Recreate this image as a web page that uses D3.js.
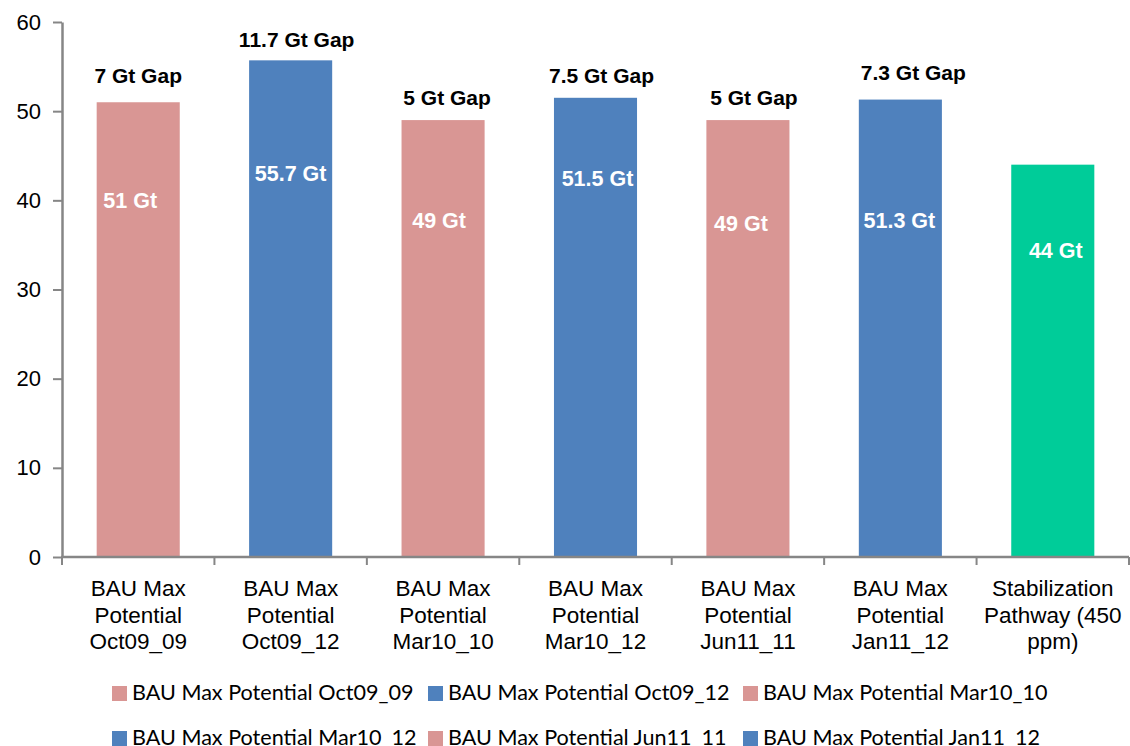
<!DOCTYPE html>
<html>
<head>
<meta charset="utf-8">
<script src="https://cdn.jsdelivr.net/npm/d3@7"></script>
<style>
  body { margin: 0; background: #fff; }
  svg { display: block; }
</style>
</head>
<body>
<svg width="1130" height="746"></svg>
<script>
// chart values
var categories = ["BAU Max Potential Oct09_09", "BAU Max Potential Oct09_12", "BAU Max Potential Mar10_10",
    "BAU Max Potential Mar10_12", "BAU Max Potential Jun11_11", "BAU Max Potential Jan11_12",
    "Stabilization Pathway (450 ppm)"];
var axisLabels = [["BAU Max", "Potential", "Oct09_09"], ["BAU Max", "Potential", "Oct09_12"],
    ["BAU Max", "Potential", "Mar10_10"], ["BAU Max", "Potential", "Mar10_12"],
    ["BAU Max", "Potential", "Jun11_11"], ["BAU Max", "Potential", "Jan11_12"],
    ["Stabilization", "Pathway (450", "ppm)"]];
var values = [51, 55.7, 49, 51.5, 49, 51.3, 44];
var valueLabels = ["51 Gt", "55.7 Gt", "49 Gt", "51.5 Gt", "49 Gt", "51.3 Gt", "44 Gt"];
var gapLabels = ["7 Gt Gap", "11.7 Gt Gap", "5 Gt Gap", "7.5 Gt Gap", "5 Gt Gap", "7.3 Gt Gap", ""];
var yTicks = [0, 10, 20, 30, 40, 50, 60];
var legendSeries = categories.slice(0, 6);

// label placement (value-axis units / pixel nudges), as dragged in the source chart
var gapLabelAt = [53.2, 57.2, 50.7, 53.2, 50.7, 53.5, 0];
var gapLabelDx = [0, 6, 4, 6, 6, 13, 0];
var valueLabelAt = [39.1, 42.2, 36.9, 41.6, 36.6, 36.9, 33.5];
var valueLabelDx = [-8, 0, -4, 2, -7, -1, 3];

var colors = ["#d99694", "#4f81bd", "#d99694", "#4f81bd", "#d99694", "#4f81bd", "#00cc99"];

var svg = d3.select("svg"),
    plotLeft = 62, plotRight = 1129, plotTop = 22, plotBottom = 557;

var x = d3.scaleBand().domain(categories).range([plotLeft, plotRight]).padding(0);
var y = d3.scaleLinear().domain([0, 60]).range([plotBottom, plotTop]);
var barW = x.bandwidth() * 0.545;

var axisColor = "#868686";

// bars
svg.selectAll(".bar")
    .data(values)
    .enter().append("rect")
    .attr("class", "bar")
    .attr("x", function(d, i) { return x(categories[i]) + (x.bandwidth() - barW) / 2; })
    .attr("y", function(d) { return y(d); })
    .attr("width", barW)
    .attr("height", function(d) { return y(0) - y(d); })
    .attr("fill", function(d, i) { return colors[i]; });

// y axis
var yAxis = svg.append("g")
    .attr("transform", "translate(" + plotLeft + ",0)")
    .call(d3.axisLeft(y).tickValues(yTicks).tickSize(9).tickSizeOuter(0).tickPadding(12));
yAxis.select(".domain").attr("stroke", axisColor).attr("stroke-width", 2.5);
yAxis.selectAll(".tick line").attr("stroke", axisColor).attr("stroke-width", 2);
yAxis.selectAll(".tick text")
    .attr("fill", "#000")
    .style("font-family", "Liberation Sans, Arial, sans-serif")
    .style("font-size", "22px");

// x axis line and ticks at category boundaries
svg.append("line")
    .attr("x1", plotLeft - 1).attr("x2", plotRight)
    .attr("y1", plotBottom).attr("y2", plotBottom)
    .attr("stroke", axisColor).attr("stroke-width", 2.5);
var bounds = categories.map(function(c) { return x(c); }).concat([x(categories[6]) + x.bandwidth()]);
svg.selectAll(".xtick")
    .data(bounds)
    .enter().append("line")
    .attr("x1", function(d) { return d; }).attr("x2", function(d) { return d; })
    .attr("y1", plotBottom).attr("y2", plotBottom + 8)
    .attr("stroke", axisColor).attr("stroke-width", 2);

// x labels
var xl = svg.selectAll(".xlabel")
    .data(axisLabels)
    .enter().append("text")
    .attr("class", "xlabel")
    .attr("text-anchor", "middle")
    .style("font-family", "Liberation Sans, Arial, sans-serif")
    .style("font-size", "22.5px")
    .attr("fill", "#000");
xl.selectAll("tspan")
    .data(function(d, i) { return d.map(function(s) { return { s: s, i: i }; }); })
    .enter().append("tspan")
    .attr("x", function(d) { return x(categories[d.i]) + x.bandwidth() / 2; })
    .attr("y", function(d, j) { return 596 + j * 26.5; })
    .text(function(d) { return d.s; });

// gap labels
svg.selectAll(".gap")
    .data(gapLabels)
    .enter().append("text")
    .attr("class", "gap")
    .attr("text-anchor", "middle")
    .attr("x", function(d, i) { return x(categories[i]) + x.bandwidth() / 2 + gapLabelDx[i]; })
    .attr("y", function(d, i) { return y(gapLabelAt[i]); })
    .style("font-family", "Liberation Sans, Arial, sans-serif")
    .style("font-weight", "bold")
    .style("font-size", "21px")
    .attr("fill", "#000")
    .text(function(d) { return d; });

// value labels
svg.selectAll(".val")
    .data(valueLabels)
    .enter().append("text")
    .attr("class", "val")
    .attr("text-anchor", "middle")
    .attr("x", function(d, i) { return x(categories[i]) + x.bandwidth() / 2 + valueLabelDx[i]; })
    .attr("y", function(d, i) { return y(valueLabelAt[i]); })
    .style("font-family", "Liberation Sans, Arial, sans-serif")
    .style("font-weight", "bold")
    .style("font-size", "21.5px")
    .attr("fill", "#fff")
    .text(function(d) { return d; });

// legend
var legendX = [112, 428, 743];
var legendY = [693, 738];
var lg = svg.selectAll(".leg")
    .data(legendSeries)
    .enter().append("g")
    .attr("class", "leg")
    .attr("transform", function(d, i) {
        return "translate(" + legendX[i % 3] + "," + legendY[Math.floor(i / 3)] + ")";
    });
lg.append("rect")
    .attr("x", 0).attr("y", -7)
    .attr("width", 15).attr("height", 15)
    .attr("fill", function(d, i) { return colors[i]; });
lg.append("text")
    .attr("x", 20).attr("y", 7)
    .style("font-family", "Lato, Open Sans, sans-serif")
    .style("font-size", "21.6px")
    .attr("fill", "#000")
    .text(function(d) { return d; });
</script>
</body>
</html>
